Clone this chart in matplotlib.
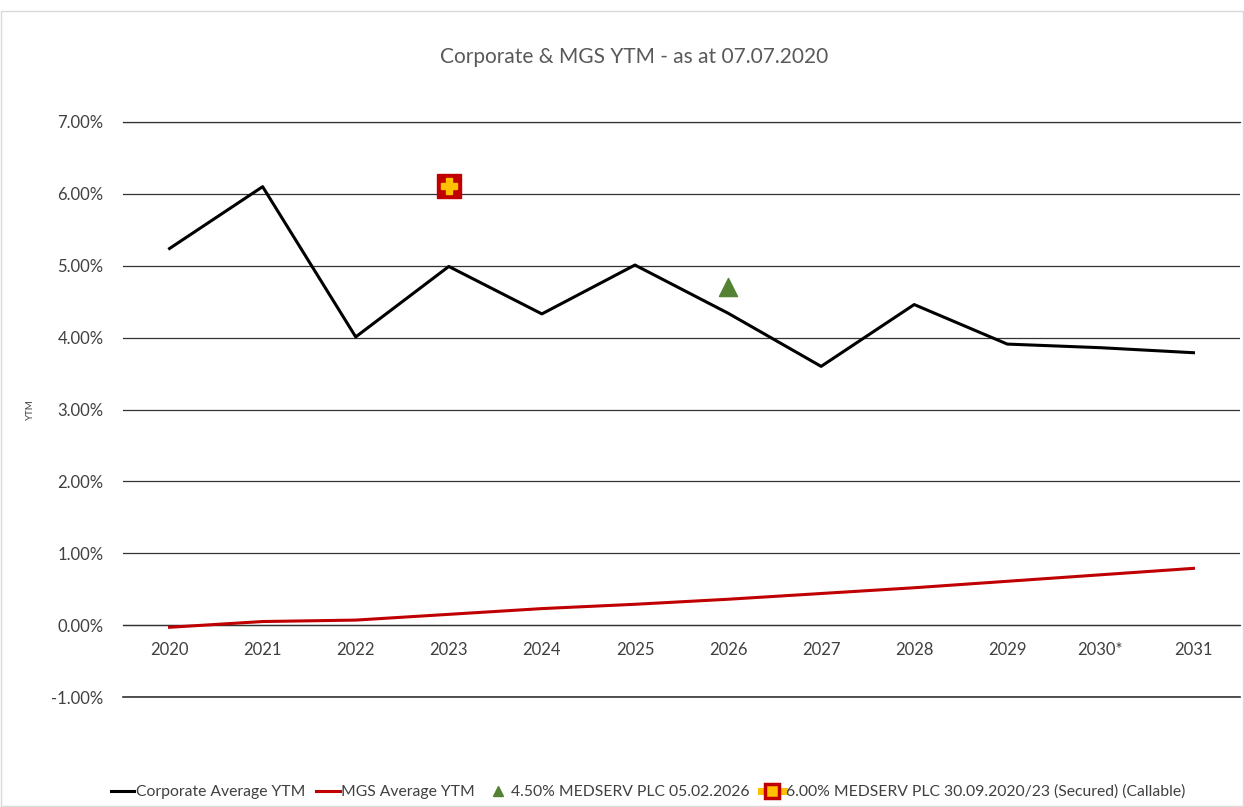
import matplotlib
matplotlib.use("Agg")
import matplotlib.pyplot as plt
from matplotlib.ticker import FuncFormatter, MultipleLocator
from matplotlib.lines import Line2D

plt.rcParams['font.family'] = ['Lato', 'DejaVu Sans']

years = ["2020", "2021", "2022", "2023", "2024", "2025", "2026", "2027", "2028", "2029", "2030*", "2031"]
corporate = [5.24, 6.10, 4.01, 4.99, 4.33, 5.01, 4.34, 3.60, 4.46, 3.91, 3.86, 3.79]
mgs = [-0.03, 0.05, 0.07, 0.15, 0.23, 0.29, 0.36, 0.44, 0.52, 0.61, 0.70, 0.79]
medserv26_x = ["2026"]
medserv26_y = [4.70]
medserv23_x = ["2023"]
medserv23_y = [6.11]

fig = plt.figure(figsize=(12.44, 8.07), dpi=100)
ax = fig.add_axes([123/1244, 1-697/807, (1240-123)/1244, (697-122)/807])

x = list(range(len(years)))
ax.plot(x, corporate, color='black', lw=2.2, label='Corporate Average YTM', zorder=3)
ax.plot(x, mgs, color='#C00000', lw=2.2, label='MGS Average YTM', zorder=3)
ax.scatter([years.index(v) for v in medserv26_x], medserv26_y, marker='^', s=170,
           color='#548235', edgecolors='#548235', zorder=4)
ax.plot([years.index(v) for v in medserv23_x], medserv23_y, marker='s', ms=17,
        mfc='#C00000', mec='#C00000', ls='none', zorder=4)
ax.plot([years.index(v) for v in medserv23_x], medserv23_y, marker='P', ms=11,
        mfc='#FFC000', mec='#FFC000', ls='none', zorder=5)

ax.set_xlim(-0.5, len(years) - 0.5)
ax.set_ylim(-1, 7)
ax.yaxis.set_major_locator(MultipleLocator(1))
ax.yaxis.set_major_formatter(FuncFormatter(lambda v, p: f"{v:.2f}%"))
ax.set_xticks(x)
ax.set_xticklabels(years)
ax.grid(axis='y', color='#333333', lw=0.9)
ax.set_axisbelow(True)
for s in ['left', 'right', 'top']:
    ax.spines[s].set_visible(False)
ax.spines['bottom'].set_position(('data', 0))
ax.spines['bottom'].set_color('#333333')
ax.spines['bottom'].set_linewidth(0.9)
ax.axhline(-1, color='#333333', lw=1.2, zorder=1, clip_on=False)
ax.axhline(7, color='#333333', lw=0.9, zorder=1, clip_on=False)
ax.tick_params(axis='both', length=0, labelsize=12, labelcolor='#404040')
ax.tick_params(axis='y', pad=14)
ax.tick_params(axis='x', pad=12)

ax.set_ylabel('YTM', fontsize=7, color='#404040')
ax.yaxis.set_label_coords(-(123-35)/1117, 0.5)

fig.text(634/1244, 1-57/807, 'Corporate & MGS YTM - as at 07.07.2020', ha='center', va='center',
         fontsize=15, color='#595959')

handles = [
    Line2D([], [], color='black', lw=2.2),
    Line2D([], [], color='#C00000', lw=2.2),
    Line2D([], [], marker='^', color='#548235', ls='none', ms=7),
    (Line2D([], [], color='#FFC000', lw=5),
     Line2D([], [], marker='s', ms=10, mfc='#FFC000', mec='#C00000', mew=2.5, ls='none')),
]
labels = ['Corporate Average YTM', 'MGS Average YTM', '4.50% MEDSERV PLC 05.02.2026',
          '6.00% MEDSERV PLC 30.09.2020/23 (Secured) (Callable)']
fig.legend(handles, labels, loc='center', bbox_to_anchor=(648/1244, 1-792/807), ncol=4,
           frameon=False, fontsize=11.3, handlelength=1.5, handletextpad=0.1, columnspacing=0.7,
           labelcolor='#404040')

border = plt.Rectangle((0.001, 0.001), 0.998, 0.985, transform=fig.transFigure, fill=False,
                       edgecolor='#D9D9D9', lw=1)
fig.add_artist(border)

fig.savefig('out.png', dpi=100)
